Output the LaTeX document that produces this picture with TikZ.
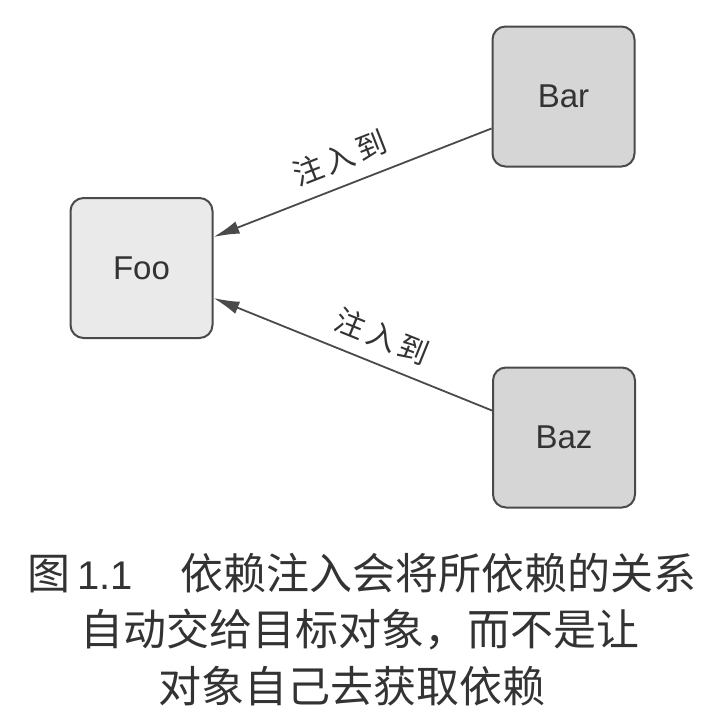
\documentclass[tikz,border=0pt]{standalone}
\usepackage{fontspec}
\setmainfont{Liberation Sans}
\newfontfamily\cjk{Noto Sans CJK SC}
\usetikzlibrary{arrows.meta}
\definecolor{ink}{HTML}{333333}
\definecolor{edge}{HTML}{4A4A4A}
\definecolor{lightfill}{HTML}{EAEAEA}
\definecolor{midfill}{HTML}{D6D6D6}
\newcommand{\injectlabel}{注\hspace{4pt}入\hspace{4pt}到}
\begin{document}
\begin{tikzpicture}[x=1pt,y=-1pt,
  box/.style={draw=edge, line width=2pt, rounded corners=13pt,
    minimum width=142pt, minimum height=140pt, inner sep=0pt,
    text=ink, font=\fontsize{33}{36}\selectfont},
  inject/.style={draw=edge, line width=1.8pt,
    {Latex[length=26pt,width=13pt]}-},
  tag/.style={sloped, above=13pt, inner sep=0pt, text=ink,
    font=\cjk\fontsize{30}{32}\selectfont},
  caption/.style={text=ink, inner sep=0pt, font=\fontsize{43}{46}\selectfont}]
\useasboundingbox (0,0) rectangle (720,724);

% the three components
\node[box, fill=lightfill] (foo) at (141.5,268) {Foo};
\node[box, fill=midfill]   (bar) at (563.5,96.5) {Bar};
\node[box, fill=midfill]   (baz) at (564,437.5) {Baz};

% dependencies injected into Foo
\draw[inject] ([yshift=31pt]foo.east) -- node[tag, pos=0.49] {\injectlabel} ([yshift=-32pt]bar.west);
\draw[inject] ([yshift=-30pt]foo.east) -- node[tag, pos=0.57] {\injectlabel} ([yshift=27pt]baz.west);

% figure caption
\node[caption] (cap1) at (362,573) {{\cjk 图}\,\fontsize{40}{42}\selectfont 1.1\hspace{1.2em}{\cjk\fontsize{43}{46}\selectfont 依赖注入会将所依赖的关系}};
\node[caption] (cap2) at (360,630) {\cjk 自动交给目标对象，而不是让};
\node[caption] (cap3) at (352,686) {\cjk 对象自己去获取依赖};
\end{tikzpicture}
\end{document}
